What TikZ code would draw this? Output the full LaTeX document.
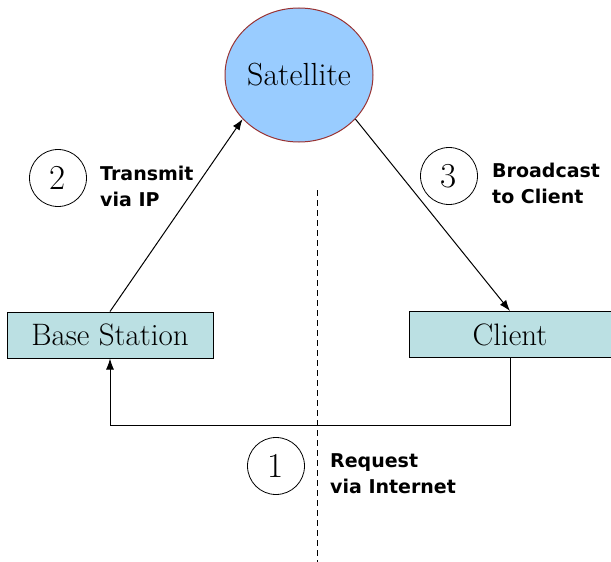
\documentclass[tikz,border=0pt]{standalone}
\usepackage{fontspec}
\newfontfamily\notefont{DejaVu Sans}
\usetikzlibrary{arrows.meta,shapes.geometric}

\definecolor{satblue}{HTML}{99CCFF}
\definecolor{satrim}{HTML}{993333}
\definecolor{boxteal}{HTML}{BBE0E3}

\tikzset{
	station/.style={draw,fill=boxteal,line width=1pt,minimum height=46pt,inner sep=0pt,
		font=\fontsize{31}{34}\selectfont},
	stepnum/.style={draw,circle,minimum size=57pt,inner sep=0pt,line width=0.8pt,
		font=\fontsize{35}{38}\selectfont},
	note/.style={anchor=west,align=left,inner sep=0pt,
		font=\notefont\bfseries\fontsize{19}{26}\selectfont},
	link/.style={line width=1pt,-{Latex[length=11pt,width=8pt]}}
}

\begin{document}
\begin{tikzpicture}[x=1pt,y=-1pt]

	\useasboundingbox (0,0) rectangle (611,562);

	% satellite and the two ground stations
	\node[ellipse,draw=satrim,fill=satblue,line width=1pt,minimum width=148pt,
		minimum height=134pt,inner sep=0pt,font=\fontsize{32}{34}\selectfont] (sat) at (299,75) {Satellite};
	\node[station,minimum width=206pt] (base)   at (110,335)   {Base Station};
	\node[station,minimum width=202pt] (client) at (510,334.5) {Client};

	% divider
	\draw[line width=0.8pt,dash pattern=on 6pt off 4pt] (317,190) -- (317,562);

	% links
	\draw[link] (base.north) -- (sat.218);
	\draw[link] (sat.322) -- (client.north);
	\draw[link] (client.south) -- ++(0,67) -| (base.south);

	% steps
	\node[stepnum] (one)   at (276,466) {1};
	\node[stepnum] (two)   at (58,178)  {2};
	\node[stepnum] (three) at (449,176) {3};

	\node[note] (request)   at (330,474) {Request\\via Internet};
	\node[note] (transmit)  at (100,186) {Transmit\\via IP};
	\node[note] (broadcast) at (492,183) {Broadcast\\to Client};

\end{tikzpicture}
\end{document}
